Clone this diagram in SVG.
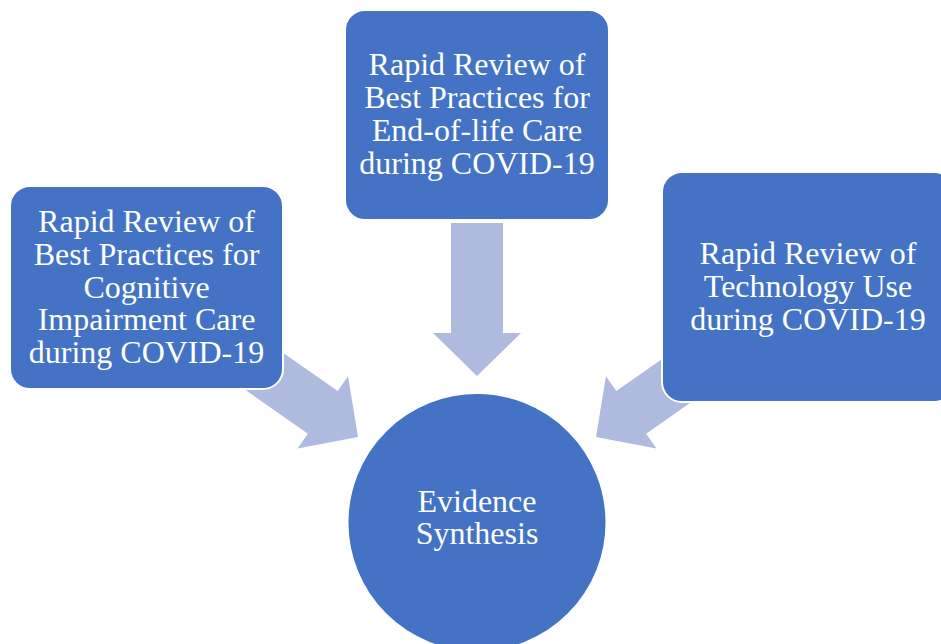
<svg xmlns="http://www.w3.org/2000/svg" width="941" height="644" viewBox="0 0 941 644">
  <style>
    .box { fill: #4472C4; stroke: #FFFFFF; stroke-width: 2; }
    .arrow { fill: #AFBBDE; }
    .label { font-family: "Liberation Serif", "Times New Roman", serif; font-size: 32px; fill: #FFFFFF; text-anchor: middle; }
  </style>
  <defs>
    <!-- block arrow pointing along +x, tip at origin -->
    <path id="blockArrow" d="M0,0 L-43,-44 L-43,-26 L-153,-26 L-153,26 L-43,26 L-43,44 Z"/>
  </defs>
  <rect width="941" height="644" fill="#FFFFFF"/>

  <g id="connectors">
    <use href="#blockArrow" class="arrow" transform="translate(477,376) rotate(90)"/>
    <use href="#blockArrow" class="arrow" transform="translate(358,437) rotate(35)"/>
    <use href="#blockArrow" class="arrow" transform="translate(596,437) scale(-1,1) rotate(35)"/>
  </g>

  <g id="node-cognitive">
    <rect class="box" x="10" y="186" width="273" height="203" rx="20"/>
    <text class="label" x="146.5" y="232">Rapid Review of</text>
    <text class="label" x="146.5" y="265">Best Practices for</text>
    <text class="label" x="146.5" y="298">Cognitive</text>
    <text class="label" x="146.5" y="330">Impairment Care</text>
    <text class="label" x="146.5" y="363">during COVID-19</text>
  </g>

  <g id="node-endoflife">
    <rect class="box" x="345" y="10" width="264" height="210" rx="20"/>
    <text class="label" x="477" y="75">Rapid Review of</text>
    <text class="label" x="477" y="108">Best Practices for</text>
    <text class="label" x="477" y="141">End-of-life Care</text>
    <text class="label" x="477" y="174">during COVID-19</text>
  </g>

  <g id="node-technology">
    <rect class="box" x="662" y="172" width="292" height="230" rx="20"/>
    <text class="label" x="808" y="264">Rapid Review of</text>
    <text class="label" x="808" y="297">Technology Use</text>
    <text class="label" x="808" y="330">during COVID-19</text>
  </g>

  <g id="node-synthesis">
    <circle class="box" cx="477" cy="522.5" r="129.5"/>
    <text class="label" x="477" y="512">Evidence</text>
    <text class="label" x="477" y="544">Synthesis</text>
  </g>
</svg>
